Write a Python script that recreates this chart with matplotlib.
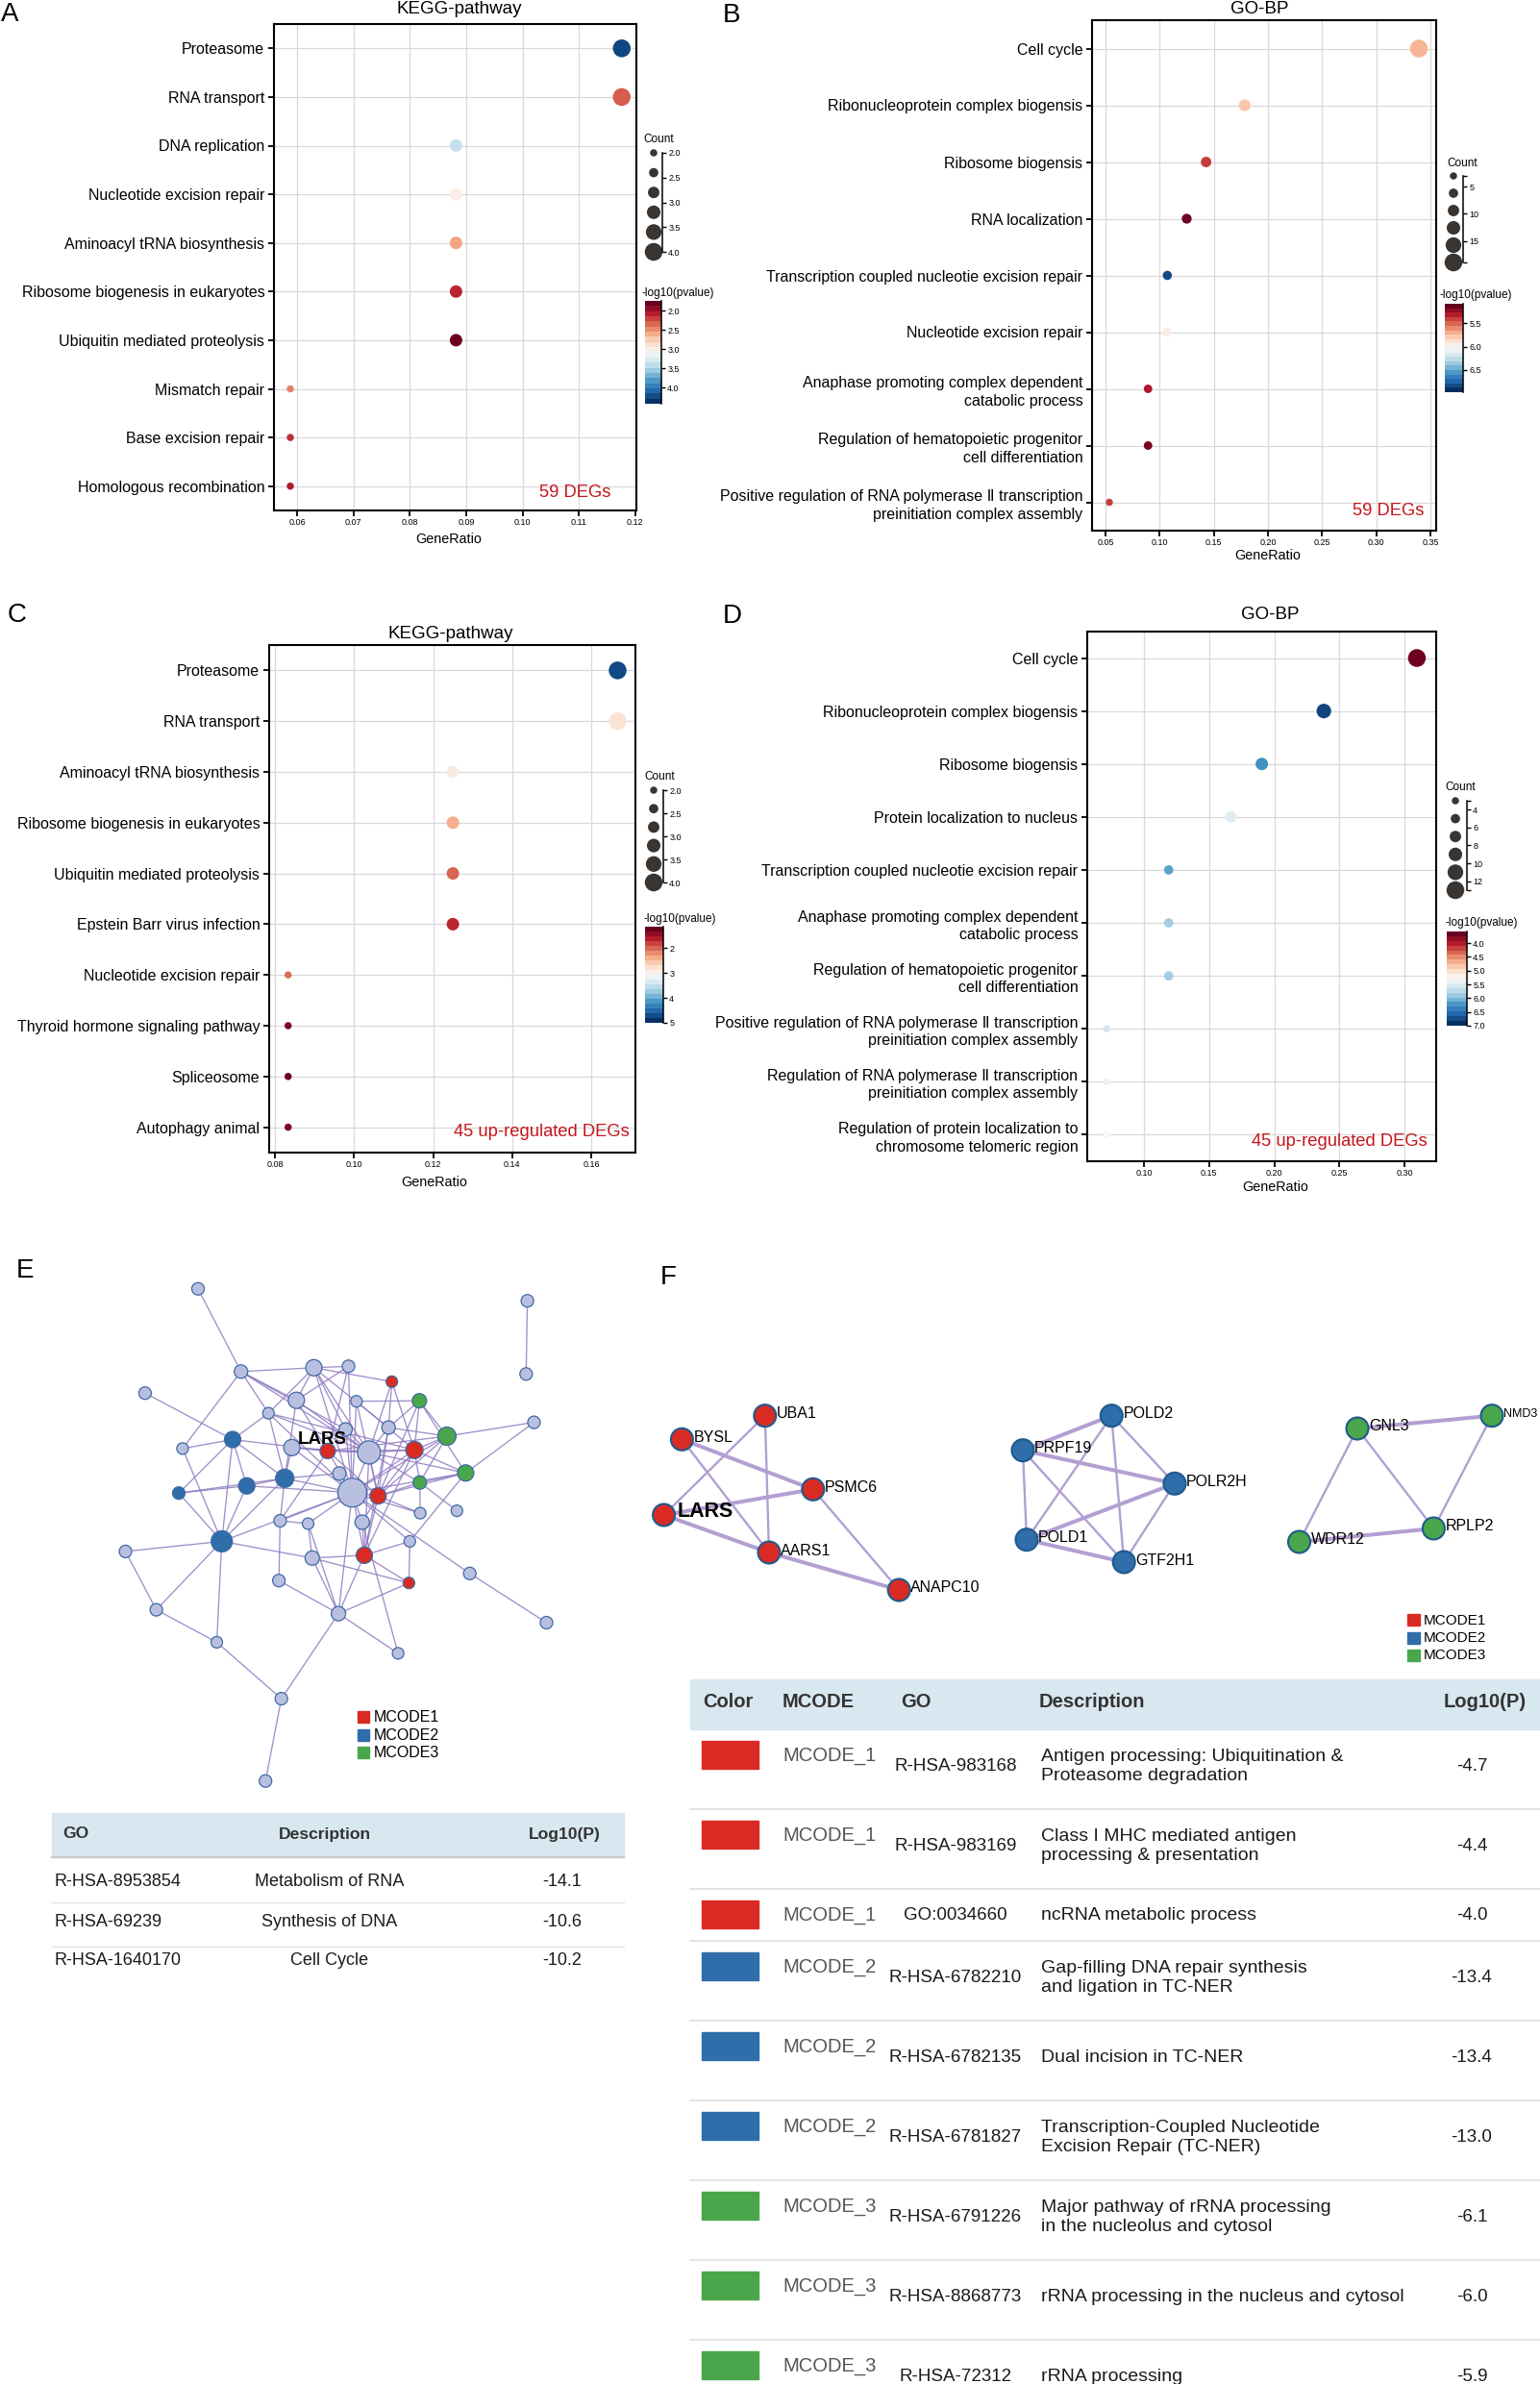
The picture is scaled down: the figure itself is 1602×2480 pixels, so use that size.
import numpy as np
import matplotlib
matplotlib.use('Agg')
import matplotlib.pyplot as plt
from matplotlib import font_manager
from matplotlib.colors import Normalize
from matplotlib.cm import ScalarMappable
from matplotlib.collections import LineCollection
from matplotlib.patches import Rectangle

# ---------------- data ----------------
# A: KEGG, 59 DEGs
a_terms = ['Proteasome', 'RNA transport', 'DNA replication', 'Nucleotide excision repair',
           'Aminoacyl tRNA biosynthesis', 'Ribosome biogenesis in eukaryotes',
           'Ubiquitin mediated proteolysis', 'Mismatch repair', 'Base excision repair',
           'Homologous recombination']
a_ratio = [0.1176, 0.1176, 0.0882, 0.0882, 0.0882, 0.0882, 0.0882, 0.0588, 0.0588, 0.0588]
a_count = [4, 4, 3, 3, 3, 3, 3, 2, 2, 2]
a_logp = [4.3, 2.28, 3.4, 3.0, 2.55, 2.07, 1.78, 2.42, 2.1, 2.02]

# B: GO-BP, 59 DEGs
b_terms = ['Cell cycle', 'Ribonucleoprotein complex biogensis', 'Ribosome biogensis',
           'RNA localization', 'Transcription coupled nucleotie excision repair',
           'Nucleotide excision repair',
           'Anaphase promoting complex dependent\ncatabolic process',
           'Regulation of hematopoietic progenitor\ncell differentiation',
           'Positive regulation of RNA polymerase \u2161 transcription\npreinitiation complex assembly']
b_ratio = [0.3393, 0.1786, 0.1429, 0.125, 0.1071, 0.1071, 0.0893, 0.0893, 0.0536]
b_count = [19, 10, 8, 7, 6, 6, 5, 5, 3]
b_logp = [5.71, 5.77, 5.37, 5.11, 6.88, 5.97, 5.28, 5.13, 5.39]

# C: KEGG, 45 up-regulated DEGs
c_terms = ['Proteasome', 'RNA transport', 'Aminoacyl tRNA biosynthesis',
           'Ribosome biogenesis in eukaryotes', 'Ubiquitin mediated proteolysis',
           'Epstein Barr virus infection', 'Nucleotide excision repair',
           'Thyroid hormone signaling pathway', 'Spliceosome', 'Autophagy animal']
c_ratio = [0.1667, 0.1667, 0.125, 0.125, 0.125, 0.125, 0.0833, 0.0833, 0.0833, 0.0833]
c_count = [4, 4, 3, 3, 3, 3, 2, 2, 2, 2]
c_logp = [4.81, 2.8, 2.92, 2.38, 1.96, 1.61, 2.0, 1.27, 1.19, 1.27]

# D: GO-BP, 45 up-regulated DEGs
d_terms = ['Cell cycle', 'Ribonucleoprotein complex biogensis', 'Ribosome biogensis',
           'Protein localization to nucleus', 'Transcription coupled nucleotie excision repair',
           'Anaphase promoting complex dependent\ncatabolic process',
           'Regulation of hematopoietic progenitor\ncell differentiation',
           'Positive regulation of RNA polymerase \u2161 transcription\npreinitiation complex assembly',
           'Regulation of RNA polymerase \u2161 transcription\npreinitiation complex assembly',
           'Regulation of protein localization to\nchromosome telomeric region']
d_ratio = [0.3095, 0.2381, 0.1905, 0.1667, 0.119, 0.119, 0.119, 0.0714, 0.0714, 0.0714]
d_count = [13, 10, 8, 7, 5, 5, 5, 3, 3, 3]
d_logp = [3.62, 6.86, 6.32, 5.5, 6.21, 5.87, 5.87, 5.63, 5.36, 5.3]

# E: PPI network (node layout), 0 = no cluster
e_x = [206.0, 548.6, 547.3, 250.7, 326.5, 362.5, 407.6, 150.9, 308.3, 370.8,
       436.3, 279.3, 359.5, 404.2, 464.9, 555.5, 189.9, 242.0, 303.6, 340.9,
       383.8, 431.1, 484.4, 353.0, 296.2, 256.7, 186.0, 366.4, 393.3, 436.7,
       475.3, 437.1, 291.4, 320.5, 376.8, 230.7, 130.5, 426.3, 324.8, 379.0,
       290.1, 425.4, 488.7, 162.6, 352.1, 568.5, 225.5, 414.1, 292.7, 276.2]
e_y = [1340.7, 1353.2, 1429.3, 1426.8, 1422.8, 1421.3, 1437.3, 1449.2, 1456.7, 1457.7,
       1457.2, 1470.1, 1487.0, 1485.0, 1494.0, 1479.6, 1506.9, 1497.5, 1505.9, 1509.4,
       1510.9, 1508.4, 1532.3, 1532.8, 1537.8, 1545.7, 1553.2, 1552.7, 1556.2, 1542.2,
       1571.6, 1574.1, 1582.0, 1585.0, 1583.5, 1603.4, 1613.9, 1603.4, 1620.8, 1617.9,
       1644.2, 1646.7, 1636.8, 1674.6, 1678.6, 1688.0, 1708.4, 1719.9, 1767.1, 1852.7]
e_size = [13, 13, 13, 14, 17, 13, 12, 13, 17, 12,
          15, 12, 14, 14, 19, 13, 12, 17, 17, 16,
          24, 18, 17, 14, 19, 17, 13, 30, 17, 14,
          12, 12, 13, 12, 15, 22, 13, 12, 15, 17,
          13, 12, 13, 13, 15, 13, 12, 12, 13, 13]
e_group = [0, 0, 0, 0, 0, 0, 1, 0, 0, 0,
           3, 0, 0, 0, 3, 0, 0, 2, 0, 1,
           0, 1, 3, 0, 2, 2, 2, 0, 1, 3,
           0, 0, 0, 0, 0, 2, 0, 0, 0, 1,
           0, 1, 0, 0, 0, 0, 0, 0, 0, 0]
e_edges = [(1, 4), (2, 3), (4, 5), (4, 17), (4, 9), (4, 12), (4, 21), (4, 13),
           (5, 6), (5, 7), (5, 9), (5, 12), (5, 21), (5, 28), (5, 13), (5, 14),
           (6, 9), (6, 28), (6, 20), (7, 22), (7, 21), (7, 14), (8, 18),
           (9, 20), (9, 21), (9, 25), (10, 11), (10, 22), (10, 29), (10, 28),
           (11, 15), (11, 23), (11, 22), (11, 29), (11, 14),
           (12, 25), (12, 18), (12, 21), (12, 28), (12, 22), (13, 28), (13, 21),
           (14, 21), (14, 15), (14, 29), (14, 40),
           (15, 16), (15, 22), (15, 28), (15, 30), (15, 29), (15, 20), (16, 23),
           (17, 18), (17, 36), (18, 25), (18, 26), (18, 27), (18, 36), (18, 20),
           (19, 20), (19, 28), (19, 21), (19, 25),
           (20, 21), (20, 22), (20, 28), (20, 33), (20, 29),
           (21, 22), (21, 28), (21, 23), (21, 29), (21, 30), (21, 40),
           (22, 29), (22, 23), (22, 28), (22, 30), (22, 40),
           (23, 28), (23, 29), (23, 30), (23, 38), (24, 28), (24, 25),
           (25, 26), (25, 27), (25, 36), (25, 28), (25, 33), (26, 27), (26, 36), (26, 28),
           (27, 36), (28, 29), (28, 33), (28, 34), (28, 35), (28, 36), (28, 38), (28, 40),
           (28, 43), (28, 45), (28, 32), (29, 30), (29, 35), (29, 32), (29, 40),
           (30, 31), (30, 32), (33, 34), (33, 41), (34, 39), (34, 45), (35, 40), (35, 48),
           (36, 37), (36, 39), (36, 44), (36, 47), (37, 44), (38, 42), (38, 40),
           (39, 40), (39, 42), (39, 45), (40, 42), (40, 45), (41, 45), (42, 45),
           (43, 46), (44, 47), (45, 49), (45, 48), (47, 49), (49, 50)]

e_go = ['R-HSA-8953854', 'R-HSA-69239', 'R-HSA-1640170']
e_desc = ['Metabolism of RNA', 'Synthesis of DNA', 'Cell Cycle']
e_logp = [-14.1, -10.6, -10.2]

# F: MCODE clusters
f_genes = ['UBA1', 'BYSL', 'PSMC6', 'LARS', 'AARS1', 'ANAPC10',
           'POLD2', 'PRPF19', 'POLR2H', 'POLD1', 'GTF2H1',
           'GNL3', 'NMD3', 'RPLP2', 'WDR12']
f_group = [1, 1, 1, 1, 1, 1, 2, 2, 2, 2, 2, 3, 3, 3, 3]
f_x = [795.8, 709.4, 845.8, 690.6, 800.0, 935.2, 1156.3, 1064.0, 1222.0, 1068.0, 1169.2,
       1412.0, 1552.0, 1491.4, 1351.5]
f_y = [1472.7, 1497.3, 1549.3, 1576.0, 1615.0, 1654.0, 1472.7, 1508.7, 1543.3, 1601.7,
       1625.0, 1486.0, 1472.7, 1590.0, 1604.0]
f_edges = [('LARS', 'UBA1', 1), ('LARS', 'PSMC6', 2), ('LARS', 'AARS1', 2), ('BYSL', 'PSMC6', 2),
           ('BYSL', 'AARS1', 1), ('UBA1', 'AARS1', 1), ('PSMC6', 'ANAPC10', 1), ('AARS1', 'ANAPC10', 2),
           ('PRPF19', 'POLD2', 2), ('PRPF19', 'POLR2H', 2), ('PRPF19', 'POLD1', 1), ('PRPF19', 'GTF2H1', 1),
           ('POLD2', 'POLR2H', 1), ('POLD2', 'POLD1', 1), ('POLD2', 'GTF2H1', 1), ('POLR2H', 'POLD1', 2),
           ('POLR2H', 'GTF2H1', 1), ('POLD1', 'GTF2H1', 2),
           ('GNL3', 'NMD3', 2), ('GNL3', 'WDR12', 1), ('GNL3', 'RPLP2', 1), ('NMD3', 'RPLP2', 1),
           ('WDR12', 'RPLP2', 2)]

f_mcode = [1, 1, 1, 2, 2, 2, 3, 3, 3]
f_go = ['R-HSA-983168', 'R-HSA-983169', 'GO:0034660', 'R-HSA-6782210', 'R-HSA-6782135',
        'R-HSA-6781827', 'R-HSA-6791226', 'R-HSA-8868773', 'R-HSA-72312']
f_desc = ['Antigen processing: Ubiquitination &\nProteasome degradation',
          'Class I MHC mediated antigen\nprocessing & presentation',
          'ncRNA metabolic process',
          'Gap-filling DNA repair synthesis\nand ligation in TC-NER',
          'Dual incision in TC-NER',
          'Transcription-Coupled Nucleotide\nExcision Repair (TC-NER)',
          'Major pathway of rRNA processing\nin the nucleolus and cytosol',
          'rRNA processing in the nucleus and cytosol',
          'rRNA processing']
f_logp = [-4.7, -4.4, -4.0, -13.4, -13.4, -13.0, -6.1, -6.0, -5.9]

# ---------------- setup ----------------
W, H = 1602, 2480
installed = {f.name for f in font_manager.fontManager.ttflist}
SANS = 'Liberation Sans' if 'Liberation Sans' in installed else 'DejaVu Sans'
if 'Liberation Sans Narrow' in installed:
    NARROW, NARROW_SIZE = 'Liberation Sans Narrow', 13.5
else:
    NARROW, NARROW_SIZE = SANS, 11.5
plt.rcParams['font.family'] = [SANS, 'DejaVu Sans']

MC_COL = {0: '#b9bfe0', 1: '#d92b24', 2: '#2f6eaa', 3: '#4aa64a'}
RED_TXT = '#c4161c'

fig = plt.figure(figsize=(W / 100, H / 100), dpi=100)


def rect(l, t, r, b):
    return [l / W, 1 - b / H, (r - l) / W, (b - t) / H]


def ftext(x, y, s, **kw):
    return fig.text(x / W, 1 - y / H, s, **kw)


def dot_area(c, c0, c1, dmin=7.5, dmax=18.5):
    d = dmin + (np.asarray(c, float) - c0) / (c1 - c0) * (dmax - dmin)
    return (d * 0.72) ** 2


def count_legend(count, ticks, fmt, title_xy, dots_x, bracket_x, top, bottom):
    c0, c1 = min(count), max(count)
    lax = fig.add_axes(rect(dots_x - 14, top, bracket_x, bottom))
    lax.set_xlim(dots_x - 14, bracket_x)
    lax.set_ylim(c1, c0)
    keys = np.linspace(c0, c1, 6)
    lax.scatter(np.full(6, dots_x), keys, s=dot_area(keys, c0, c1), color='#3a3531',
                edgecolors='none', clip_on=False)
    for side in ['left', 'top', 'bottom']:
        lax.spines[side].set_visible(False)
    lax.spines['right'].set_linewidth(1.1)
    lax.set_xticks([])
    lax.yaxis.tick_right()
    lax.set_yticks(ticks)
    lax.set_yticklabels([fmt.format(t) for t in ticks], fontsize=6.5)
    lax.set_yticks([c0, c1], minor=True)
    lax.tick_params(axis='y', which='both', length=3, width=1, pad=1.5)
    lax.patch.set_visible(False)
    ftext(title_xy[0], title_xy[1], 'Count', fontsize=8.5, ha='left', va='center')


def pval_bar(vlim, ticks, fmt, box, title_xy):
    cax = fig.add_axes(rect(*box))
    sm = ScalarMappable(norm=Normalize(*vlim), cmap=plt.get_cmap('RdBu').resampled(20))
    cb = fig.colorbar(sm, cax=cax)
    cax.invert_yaxis()
    cb.outline.set_visible(False)
    cb.set_ticks(ticks)
    cb.set_ticklabels([fmt.format(t) for t in ticks])
    cax.tick_params(length=3, width=1, labelsize=6.5, pad=1.5)
    cax.axvline(1.0, color='black', lw=1.1, clip_on=False)
    ftext(title_xy[0], title_xy[1], '-log10(pvalue)', fontsize=8.5, ha='left', va='center')


def dot_panel(box, terms, ratio, count, logp, xlim, xticks, vlim, label_font,
              title, title_xy, note, note_xy, xlab_xy):
    ax = fig.add_axes(rect(*box))
    n = len(terms)
    c0, c1 = min(count), max(count)
    ax.scatter(ratio, np.arange(n), s=dot_area(count, c0, c1), c=logp, cmap='RdBu',
               vmin=vlim[0], vmax=vlim[1], edgecolors='none', zorder=3)
    ax.set_xlim(*xlim)
    ax.set_ylim(n - 0.5, -0.5)
    ax.set_yticks(np.arange(n))
    ax.set_yticklabels(terms, family=[label_font[0], 'DejaVu Sans'], fontsize=label_font[1],
                       ha='right', multialignment='right', linespacing=1.3)
    ax.set_xticks(xticks)
    ax.set_xticklabels(['{:.2f}'.format(t) for t in xticks], fontsize=6.5)
    ax.tick_params(axis='y', length=4, width=1.3, pad=3)
    ax.tick_params(axis='x', length=4, width=1.3, pad=2)
    ax.grid(True, color='#d9d9d9', lw=0.9)
    ax.set_axisbelow(True)
    for sp in ax.spines.values():
        sp.set_linewidth(1.5)
    ftext(title_xy[0], title_xy[1], title, fontsize=13.5, ha='center', va='center')
    ftext(note_xy[0], note_xy[1], note, fontsize=13.2, color=RED_TXT, ha='center', va='center')
    ftext(xlab_xy[0], xlab_xy[1], 'GeneRatio', fontsize=10.4, ha='center', va='center')
    return ax


# ---------------- dot plots ----------------
dot_panel((285, 25, 662, 531), a_terms, a_ratio, a_count, a_logp, (0.0559, 0.1202),
          np.arange(0.06, 0.1201, 0.01), (1.75, 4.42), (SANS, 11.5),
          'KEGG-pathway', (478, 10), '59 DEGs', (598, 513), (467, 561))
count_legend(a_count, [2.0, 2.5, 3.0, 3.5, 4.0], '{:.1f}', (669, 145), 680, 689, 159, 262)
pval_bar((1.75, 4.42), [2.0, 2.5, 3.0, 3.5, 4.0], '{:.1f}', (671, 313, 688, 420), (667, 305))

dot_panel((1136, 21, 1494, 552), b_terms, b_ratio, b_count, b_logp, (0.0376, 0.3553),
          np.arange(0.05, 0.3501, 0.05), (5.09, 6.97), (NARROW, NARROW_SIZE),
          'GO-BP', (1310, 10), '59 DEGs', (1444, 532), (1319, 578))
count_legend(b_count, [5, 10, 15], '{:d}', (1505, 170), 1512, 1522, 183, 273)
pval_bar((5.09, 6.97), [5.5, 6.0, 6.5], '{:.1f}', (1503, 316, 1522, 408), (1497, 307))

dot_panel((280, 671, 661, 1199), c_terms, c_ratio, c_count, c_logp, (0.0785, 0.1712),
          np.arange(0.08, 0.1601, 0.02), (1.15, 5.0), (SANS, 11.5),
          'KEGG-pathway', (469, 659), '45 up-regulated DEGs', (563, 1178), (452, 1230))
count_legend(c_count, [2.0, 2.5, 3.0, 3.5, 4.0], '{:.1f}', (670, 808), 680, 690, 822, 918)
pval_bar((1.15, 5.0), [2, 3, 4, 5], '{:d}', (671, 964, 690, 1064), (670, 956))

dot_panel((1131, 657, 1494, 1208), d_terms, d_ratio, d_count, d_logp, (0.0565, 0.3243),
          np.arange(0.10, 0.3001, 0.05), (3.58, 7.0), (NARROW, NARROW_SIZE),
          'GO-BP', (1321, 640), '45 up-regulated DEGs', (1393, 1188), (1327, 1235))
count_legend(d_count, [4, 6, 8, 10, 12], '{:d}', (1503, 819), 1514, 1526, 833, 926)
pval_bar((3.58, 7.0), [4.0, 4.5, 5.0, 5.5, 6.0, 6.5, 7.0], '{:.1f}', (1505, 969, 1526, 1067), (1503, 960))

# panel letters
for letter, x, y in [('A', 1, 22.5), ('B', 752, 23), ('C', 8, 647), ('D', 752, 648),
                     ('E', 17, 1329), ('F', 687, 1336)]:
    ftext(x, y, letter, fontsize=20, ha='left', va='baseline')

# ---------------- networks and tables (pixel space overlay) ----------------
ov = fig.add_axes([0, 0, 1, 1])
ov.set_xlim(0, W)
ov.set_ylim(H, 0)
ov.axis('off')

# E network
ex, ey = np.array(e_x), np.array(e_y)
segs = [[(ex[i - 1], ey[i - 1]), (ex[j - 1], ey[j - 1])] for i, j in e_edges]
ov.add_collection(LineCollection(segs, colors='#8f7bc0', linewidths=0.95, alpha=0.85, zorder=1))
ov.scatter(ex, ey, s=(np.array(e_size) * 0.72) ** 2, c=[MC_COL[g] for g in e_group],
           edgecolors='#3f6aa3', linewidths=0.9, zorder=2)
ov.text(335, 1498, 'LARS', fontsize=13.5, fontweight='bold', ha='center', va='center', zorder=3)

for k in range(3):
    ov.add_patch(Rectangle((372, 1780 + 18.5 * k), 12, 12, color=MC_COL[k + 1]))
    ov.text(389, 1786.5 + 18.5 * k, 'MCODE%d' % (k + 1), fontsize=11.5, ha='left', va='center')

# E table
ov.add_patch(Rectangle((54, 1885.5), 595, 46.5, color='#d8e7f0', zorder=0))
hdr = dict(fontsize=12.6, fontweight='bold', color='#333333', va='center')
ov.text(65, 1908, 'GO', ha='left', **hdr)
ov.text(338, 1908, 'Description', ha='center', **hdr)
ov.text(587, 1908, 'Log10(P)', ha='center', **hdr)
ov.plot([54, 649], [1932, 1932], color='#c8c8c8', lw=1.6)
for yy in [1979, 2025]:
    ov.plot([54, 649], [yy, yy], color='#e2e2e2', lw=1)
for k in range(len(e_go)):
    yy = 1958 + 41 * k
    ov.text(56, yy, e_go[k], fontsize=13, ha='left', va='center', color='#1a1a1a')
    ov.text(343, yy, e_desc[k], fontsize=13, ha='center', va='center', color='#1a1a1a')
    ov.text(585, yy, '{:.1f}'.format(e_logp[k]), fontsize=13, ha='center', va='center', color='#1a1a1a')

# F network
pos = {g: (x, y) for g, x, y in zip(f_genes, f_x, f_y)}
for a, b, w in f_edges:
    ov.plot([pos[a][0], pos[b][0]], [pos[a][1], pos[b][1]], color='#b39fd2',
            lw=1.7 if w == 1 else 2.9, zorder=1, solid_capstyle='round')
ov.scatter(f_x, f_y, s=(23 * 0.72) ** 2, c=[MC_COL[g] for g in f_group],
           edgecolors='#1f5a8c', linewidths=1.5, zorder=2)
for g, x, y in zip(f_genes, f_x, f_y):
    if g == 'LARS':
        ov.text(x + 14, y - 3, g, fontsize=15.5, fontweight='bold', ha='left', va='center', zorder=3)
    elif x + 60 > W:
        # label at the right edge of the page: keep it inside
        ov.text(x + 12, y - 2, g, fontsize=9, ha='left', va='center', zorder=3)
    else:
        ov.text(x + 12, y - 2, g, fontsize=11.5, ha='left', va='center', zorder=3)

for k in range(3):
    ov.add_patch(Rectangle((1464, 1679 + 18.5 * k), 13, 12, color=MC_COL[k + 1]))
    ov.text(1481, 1685.5 + 18.5 * k, 'MCODE%d' % (k + 1), fontsize=11, ha='left', va='center')

# F table
ov.add_patch(Rectangle((718, 1746.7), 884, 52.7, color='#d8e7f0', zorder=0))
hdr = dict(fontsize=14.5, fontweight='bold', color='#333333', va='center', ha='left')
for lab, x in [('Color', 731), ('MCODE', 814), ('GO', 937), ('Description', 1081), ('Log10(P)', 1502)]:
    ov.text(x, 1771, lab, **hdr)

row_h = [83, 83, 54, 83, 83, 83, 83, 83, 83]
top = 1799.4
for k in range(len(f_go)):
    h = row_h[k]
    ty = min(38, h / 2)
    ov.add_patch(Rectangle((730, top + 12), 59, 29, color=MC_COL[f_mcode[k]]))
    ov.text(814, top + 27, 'MCODE_%d' % f_mcode[k], fontsize=14.5, color='#555555',
            ha='left', va='center')
    ov.text(994, top + ty, f_go[k], fontsize=13.5, ha='center', va='center', color='#1a1a1a')
    ov.text(1083, top + ty, f_desc[k], fontsize=14, ha='left', va='center', color='#1a1a1a',
            linespacing=1.25)
    ov.text(1531, top + ty, '{:.1f}'.format(f_logp[k]), fontsize=13.5, ha='center',
            va='center', color='#1a1a1a')
    top += h
    ov.plot([718, W], [top, top], color='#dedede', lw=1.2)

fig.savefig('out.png', dpi=100)
